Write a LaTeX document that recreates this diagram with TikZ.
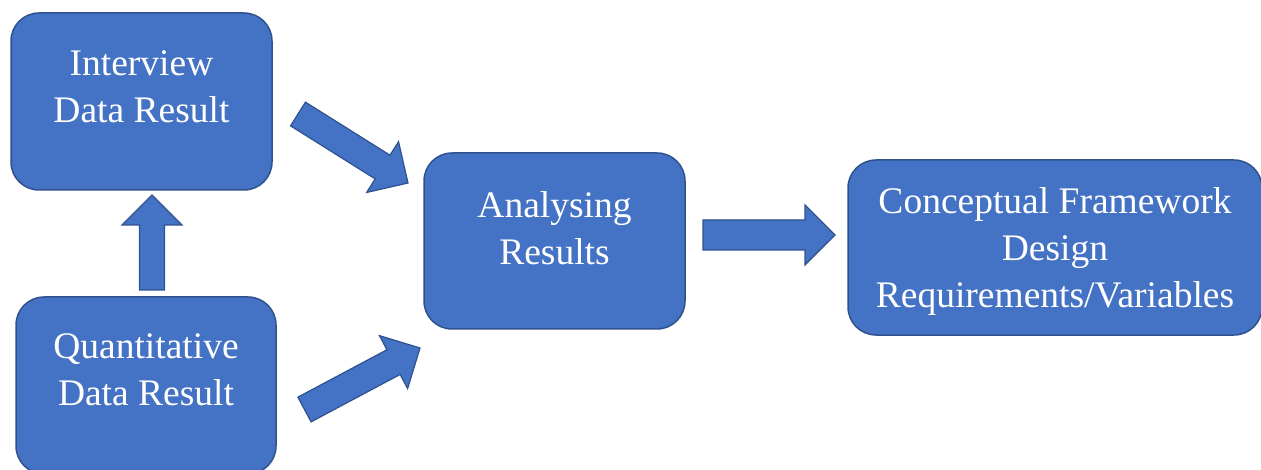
\documentclass[tikz,border=0pt]{standalone}
\usepackage{xcolor}
\usepackage{fontspec}
\setmainfont{Liberation Serif}
\usepackage{tikz}
\usetikzlibrary{calc}
\definecolor{stepBlue}{HTML}{4472C4}
\definecolor{stepEdge}{HTML}{2F528F}

\newcommand{\blockarrow}[3][28]{%
\pgfmathsetmacro{\halfshaft}{#1/2}
\coordinate (hb) at ($(#3)!30pt!(#2)$);
\draw[flowarrow]
($(#2)!\halfshaft pt!90:(#3)$) --
($(hb)!\halfshaft pt!90:(#3)$) --
($(hb)!30pt!90:(#3)$) --
(#3) --
($(hb)!30pt!-90:(#3)$) --
($(hb)!\halfshaft pt!-90:(#3)$) --
($(#2)!\halfshaft pt!-90:(#3)$) -- cycle;
}

\begin{document}
\begin{tikzpicture}[x=1pt,y=-1pt,
stepbox/.style={
fill=stepBlue,
draw=stepEdge,
line width=1.5pt,
rounded corners=28pt,
inner sep=0pt,
align=center,
text=white,
font=\fontsize{37.5}{47}\selectfont
},
flowarrow/.style={
fill=stepBlue,
draw=stepEdge,
line width=1.2pt,
line join=miter
}]
\clip (0,0) rectangle (1261,470);

\node[stepbox,minimum width=261pt,minimum height=177pt,text depth=30pt] (interview) at (141.5,101.5) {Interview\\Data Result};
\node[stepbox,minimum width=260pt,minimum height=177pt,text depth=32pt] (quantitative) at (146,385.5) {Quantitative\\Data Result};
\node[stepbox,minimum width=261pt,minimum height=176pt,text depth=27pt] (analysing) at (554.5,241) {Analysing\\Results};
\node[stepbox,minimum width=414pt,minimum height=175pt,text depth=0pt] (framework) at (1055,247.5) {Conceptual Framework\\Design\\Requirements/Variables};

\coordinate (quantUp) at (152,290);
\coordinate (interviewIn) at (152,195);
\coordinate (interviewOut) at (298,114);
\coordinate (analysingInTop) at (408,183);
\coordinate (quantOut) at (304.5,409.5);
\coordinate (analysingInBot) at (420,348);
\coordinate (analysingOut) at (703,235);
\coordinate (frameworkIn) at (835,235);

\blockarrow[25]{quantUp}{interviewIn}
\blockarrow{interviewOut}{analysingInTop}
\blockarrow{quantOut}{analysingInBot}
\blockarrow[30]{analysingOut}{frameworkIn}
\end{tikzpicture}
\end{document}
